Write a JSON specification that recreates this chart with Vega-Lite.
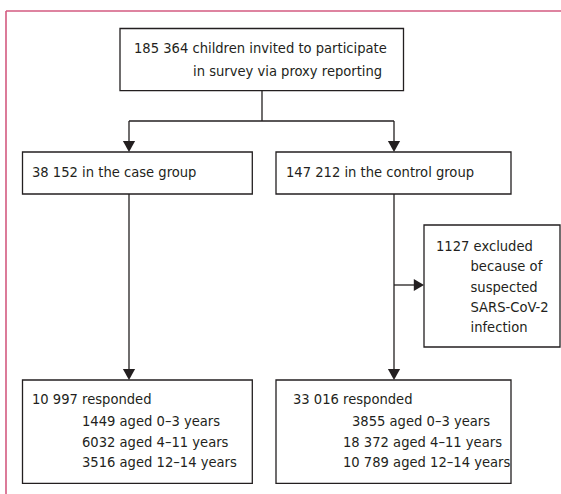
{
  "$schema": "https://vega.github.io/schema/vega-lite/v6.json",
  "width": 561,
  "height": 494,
  "autosize": {"type": "none"},
  "padding": 0,
  "background": "white",
  "config": {"view": {"stroke": null}},
  "datasets": {
    "frame": [
      {"x": 6, "y": 11, "x2": 561, "y2": 11},
      {"x": 6, "y": 11, "x2": 6, "y2": 494}
    ],
    "boxes": [
      {"id": "top", "x": 120, "x2": 403.5, "y": 28.5, "y2": 90.7},
      {"id": "case", "x": 22.5, "x2": 252.3, "y": 152, "y2": 194},
      {"id": "control", "x": 276, "x2": 511, "y": 152, "y2": 194},
      {"id": "excluded", "x": 424, "x2": 560, "y": 225, "y2": 347},
      {"id": "caseResp", "x": 22.5, "x2": 252.3, "y": 380, "y2": 483.3},
      {"id": "controlResp", "x": 276, "x2": 511, "y": 380, "y2": 483.3}
    ],
    "lines": [
      {"x": 262, "y": 90.7, "x2": 262, "y2": 121},
      {"x": 129, "y": 121, "x2": 394, "y2": 121},
      {"x": 129, "y": 121, "x2": 129, "y2": 145},
      {"x": 394, "y": 121, "x2": 394, "y2": 145},
      {"x": 129, "y": 194, "x2": 129, "y2": 372},
      {"x": 394, "y": 194, "x2": 394, "y2": 372},
      {"x": 394, "y": 285, "x2": 416, "y2": 285}
    ],
    "downArrows": [
      {"x": 129, "y": 152},
      {"x": 394, "y": 152},
      {"x": 129, "y": 380},
      {"x": 394, "y": 380}
    ],
    "rightArrows": [
      {"x": 424, "y": 285}
    ],
    "labels": [
      {"x": 134, "y": 49, "text": "185 364 children invited to participate"},
      {"x": 193, "y": 72, "text": "in survey via proxy reporting"},
      {"x": 32, "y": 173, "text": "38 152 in the case group"},
      {"x": 286, "y": 173, "text": "147 212 in the control group"},
      {"x": 436, "y": 247, "text": "1127 excluded"},
      {"x": 470.5, "y": 267, "text": "because of"},
      {"x": 470.5, "y": 287.5, "text": "suspected"},
      {"x": 470.5, "y": 307.5, "text": "SARS-CoV-2"},
      {"x": 470.5, "y": 328, "text": "infection"},
      {"x": 32, "y": 400, "text": "10 997 responded"},
      {"x": 82, "y": 421.5, "text": "1449 aged 0–3 years"},
      {"x": 82, "y": 442.5, "text": "6032 aged 4–11 years"},
      {"x": 82, "y": 463.3, "text": "3516 aged 12–14 years"},
      {"x": 293, "y": 400, "text": "33 016 responded"},
      {"x": 352, "y": 421.5, "text": "3855 aged 0–3 years"},
      {"x": 343, "y": 442.5, "text": "18 372 aged 4–11 years"},
      {"x": 343, "y": 463.3, "text": "10 789 aged 12–14 years"}
    ]
  },
  "layer": [
    {
      "data": {"name": "frame"},
      "mark": {"type": "rule", "color": "#d35a80", "strokeWidth": 1.6},
      "encoding": {
        "x": {"field": "x", "type": "quantitative", "scale": {"domain": [0, 561], "nice": false, "zero": false}, "axis": null},
        "y": {"field": "y", "type": "quantitative", "scale": {"domain": [0, 494], "nice": false, "zero": false, "reverse": true}, "axis": null},
        "x2": {"field": "x2"},
        "y2": {"field": "y2"}
      }
    },
    {
      "data": {"name": "boxes"},
      "mark": {"type": "rect", "fill": "white", "stroke": "#231f20", "strokeWidth": 1.3},
      "encoding": {
        "x": {"field": "x", "type": "quantitative"},
        "x2": {"field": "x2"},
        "y": {"field": "y", "type": "quantitative"},
        "y2": {"field": "y2"}
      }
    },
    {
      "data": {"name": "lines"},
      "mark": {"type": "rule", "color": "#231f20", "strokeWidth": 1.3},
      "encoding": {
        "x": {"field": "x", "type": "quantitative"},
        "x2": {"field": "x2"},
        "y": {"field": "y", "type": "quantitative"},
        "y2": {"field": "y2"}
      }
    },
    {
      "data": {"name": "downArrows"},
      "mark": {"type": "point", "shape": "M0,0L-1,-1.8L1,-1.8Z", "filled": true, "size": 150, "color": "#231f20", "opacity": 1, "strokeWidth": 0},
      "encoding": {
        "x": {"field": "x", "type": "quantitative"},
        "y": {"field": "y", "type": "quantitative"}
      }
    },
    {
      "data": {"name": "rightArrows"},
      "mark": {"type": "point", "shape": "M0,0L-1.7,-1L-1.7,1Z", "filled": true, "size": 144, "color": "#231f20", "opacity": 1, "strokeWidth": 0},
      "encoding": {
        "x": {"field": "x", "type": "quantitative"},
        "y": {"field": "y", "type": "quantitative"}
      }
    },
    {
      "data": {"name": "labels"},
      "mark": {"type": "text", "align": "left", "baseline": "middle", "font": "DejaVu Sans Condensed", "fontSize": 14.6, "color": "#231f20"},
      "encoding": {
        "x": {"field": "x", "type": "quantitative"},
        "y": {"field": "y", "type": "quantitative"},
        "text": {"field": "text"}
      }
    }
  ]
}
